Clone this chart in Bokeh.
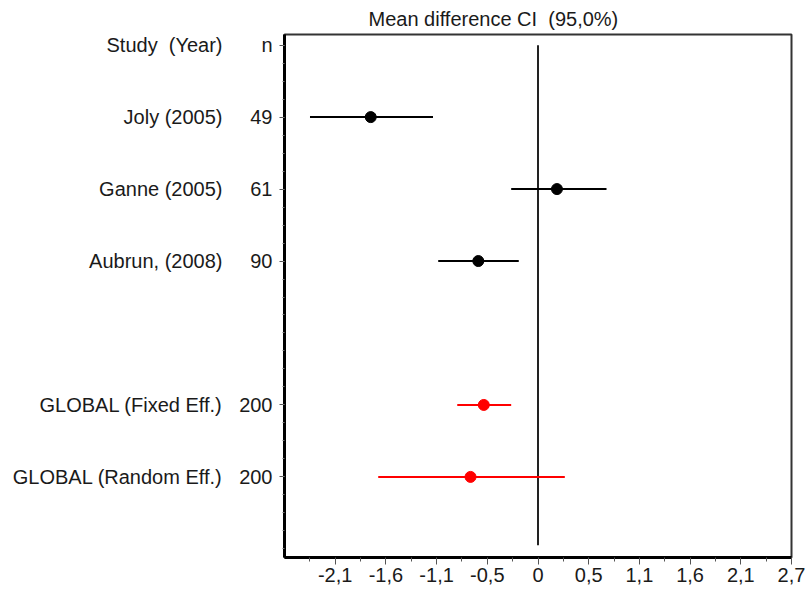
from bokeh.plotting import figure
from bokeh.models import Range1d, FixedTicker, LinearAxis, ColumnDataSource
from bokeh.embed import file_html
from bokeh.resources import INLINE

# ---- data ----
studies = ["Joly (2005)", "Ganne (2005)", "Aubrun, (2008)",
           "GLOBAL (Fixed Eff.)", "GLOBAL (Random Eff.)"]
n_values = [49, 61, 90, 200, 200]
row_pos = [1, 2, 3, 5, 6]
mean_diff = [-1.765, 0.20, -0.63, -0.572, -0.712]
ci_low = [-2.406, -0.283, -1.053, -0.852, -1.686]
ci_high = [-1.108, 0.723, -0.203, -0.283, 0.283]
colors = ["black", "black", "black", "#ff0000", "#ff0000"]
header_study = "Study \u00a0(Year)"
header_n = "n"
header_row = 0
title_text = "Mean difference CI \u00a0(95,0%)"
x_tick_step = 0.535
x_tick_labels = ["-2,1", "-1,6", "-1,1", "-0,5", "0", "0,5", "1,1", "1,6", "2,1", "2,7"]
x_tick_index = [-4, -3, -2, -1, 0, 1, 2, 3, 4, 5]

FONT = "Liberation Sans"
FS = "20px"

src = ColumnDataSource(dict(study=studies, n=n_values, row=row_pos, mean=mean_diff,
                            lo=ci_low, hi=ci_high, color=colors))

p = figure(width=808, height=598, output_backend="svg", toolbar_location=None,
           x_range=Range1d(-5 * x_tick_step, 5 * x_tick_step),
           y_range=Range1d(7.12, -0.148),
           min_border_left=284, min_border_right=17, min_border_bottom=41,
           min_border_top=33, title=title_text)

p.title.align = "left"
p.title.offset = 84
p.title.text_font = FONT
p.title.text_font_size = FS
p.title.text_font_style = "normal"
p.title.text_color = "#1a1a1a"
p.title.standoff = 10

p.xgrid.visible = False
p.ygrid.visible = False
p.outline_line_color = "#333333"
p.outline_line_width = 2
p.background_fill_color = "white"
p.border_fill_color = "white"

# x axis
xt = [round(i * x_tick_step, 4) for i in x_tick_index]
xminor = [round((i - 0.5) * x_tick_step, 4) for i in x_tick_index]
p.xaxis.ticker = FixedTicker(ticks=xt, minor_ticks=xminor)
p.xaxis.major_label_overrides = {t: l for t, l in zip(xt, x_tick_labels)}
p.xaxis.axis_line_width = 3
p.xaxis.axis_line_color = "black"
p.xaxis.major_tick_out = 7
p.xaxis.major_tick_in = 0
p.xaxis.minor_tick_out = 4
p.xaxis.minor_tick_in = 0
p.xaxis.major_tick_line_color = "#555555"
p.xaxis.minor_tick_line_color = "#555555"
p.xaxis.major_label_standoff = 3
p.xaxis.major_label_text_font = FONT
p.xaxis.major_label_text_font_size = FS
p.xaxis.major_label_text_color = "#1a1a1a"

# inner y axis: n values
yt = [header_row] + row_pos
p.yaxis.ticker = FixedTicker(ticks=yt, minor_ticks=[q / 4 for q in range(0, 29)])
p.yaxis.major_label_overrides = {header_row: header_n, **{r: str(n) for r, n in zip(row_pos, n_values)}}
p.yaxis.axis_line_width = 3
p.yaxis.axis_line_color = "black"
p.yaxis.major_tick_out = 5
p.yaxis.major_tick_in = 0
p.yaxis.minor_tick_out = 2
p.yaxis.minor_tick_in = 0
p.yaxis.major_tick_line_color = "#555555"
p.yaxis.minor_tick_line_color = "#777777"
p.yaxis.major_label_standoff = 7
p.yaxis.major_label_text_font = FONT
p.yaxis.major_label_text_font_size = FS
p.yaxis.major_label_text_color = "#1a1a1a"

# outer y axis: study names
name_axis = LinearAxis(ticker=FixedTicker(ticks=yt, minor_ticks=[]),
                       major_label_overrides={header_row: header_study,
                                              **{r: s for r, s in zip(row_pos, studies)}},
                       axis_line_color=None, major_tick_line_color=None,
                       minor_tick_line_color=None, major_tick_out=0, major_tick_in=0,
                       major_label_standoff=14, major_label_text_font=FONT,
                       major_label_text_font_size=FS, major_label_text_color="#1a1a1a")
p.add_layout(name_axis, "left")

# zero reference line
p.segment(x0=[0], y0=[header_row], x1=[0], y1=[6.95], line_color="#222222", line_width=2)

# CI bars and points
p.segment(x0="lo", y0="row", x1="hi", y1="row", line_color="color", line_width=2, source=src)
p.scatter(x="mean", y="row", size=11, fill_color="color", line_color="color", source=src)

open("out.html", "w").write(file_html(p, INLINE))
